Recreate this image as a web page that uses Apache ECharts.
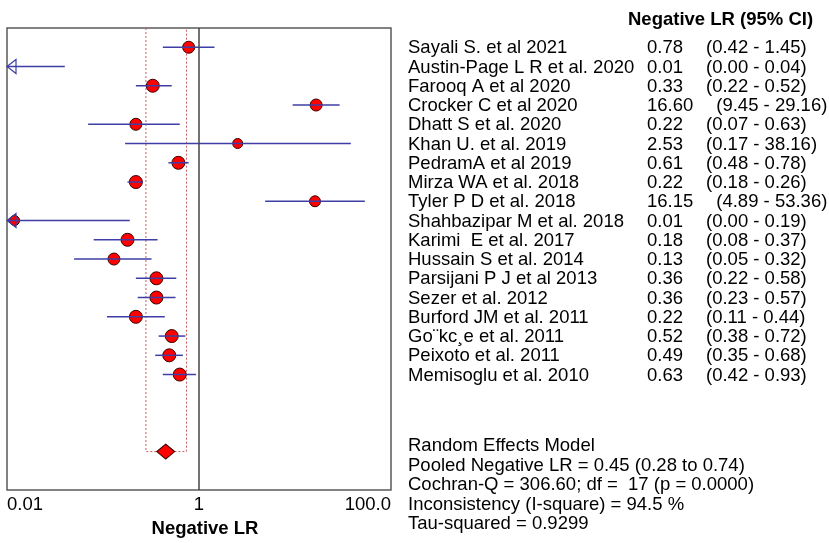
<!DOCTYPE html>
<html>
<head>
    <meta charset="utf-8">
    <title>Negative LR forest plot</title>
    <script src="https://cdn.jsdelivr.net/npm/echarts@6.0.0/dist/echarts.min.js"></script>
    <style>html, body { margin: 0; padding: 0; background: #fff; }</style>
</head>
<body>
<div id="main" style="width: 829px;height:543px;"></div>
<script type="text/javascript">

    // data
    const studies = [
        'Sayali S. et al 2021', 'Austin-Page L R et al. 2020', 'Farooq A et al 2020',
        'Crocker C et al 2020', 'Dhatt S et al. 2020', 'Khan U. et al. 2019',
        'PedramA et al 2019', 'Mirza WA et al. 2018', 'Tyler P D et al. 2018',
        'Shahbazipar M et al. 2018', 'Karimi  E et al. 2017', 'Hussain S et al. 2014',
        'Parsijani P J et al 2013', 'Sezer et al. 2012', 'Burford JM et al. 2011',
        'Go\u00a8kc\u00b8e et al. 2011', 'Peixoto et al. 2011', 'Memisoglu et al. 2010'
    ];
    const lrText = ['0.78', '0.01', '0.33', '16.60', '0.22', '2.53', '0.61', '0.22', '16.15',
        '0.01', '0.18', '0.13', '0.36', '0.36', '0.22', '0.52', '0.49', '0.63'];
    const ciText = ['(0.42 - 1.45)', '(0.00 - 0.04)', '(0.22 - 0.52)', '  (9.45 - 29.16)',
        '(0.07 - 0.63)', '(0.17 - 38.16)', '(0.48 - 0.78)', '(0.18 - 0.26)', '  (4.89 - 53.36)',
        '(0.00 - 0.19)', '(0.08 - 0.37)', '(0.05 - 0.32)', '(0.22 - 0.58)', '(0.23 - 0.57)',
        '(0.11 - 0.44)', '(0.38 - 0.72)', '(0.35 - 0.68)', '(0.42 - 0.93)'];
    // plotted estimates (read from the marks)
    const lr = [0.78, 0.009, 0.33, 16.60, 0.22, 2.53, 0.61, 0.22, 16.15,
        0.012, 0.18, 0.13, 0.36, 0.36, 0.22, 0.52, 0.49, 0.63];
    const ciLow = [0.42, 0.00, 0.22, 9.45, 0.07, 0.17, 0.48, 0.18, 4.89,
        0.00, 0.08, 0.05, 0.22, 0.23, 0.11, 0.38, 0.35, 0.42];
    const ciHigh = [1.45, 0.04, 0.52, 29.16, 0.63, 38.16, 0.78, 0.26, 53.36,
        0.19, 0.37, 0.32, 0.58, 0.57, 0.44, 0.72, 0.68, 0.93];
    const pooled = 0.45;
    const pooledLow = 0.28;
    const pooledHigh = 0.74;
    const summaryLines = [
        'Random Effects Model',
        'Pooled Negative LR = 0.45 (0.28 to 0.74)',
        'Cochran-Q = 306.60; df =  17 (p = 0.0000)',
        'Inconsistency (I-square) = 94.5 %',
        'Tau-squared = 0.9299'
    ];
    const xTickValues = [0.01, 1, 100];
    const xTickLabels = ['0.01', '1', '100.0'];

    // style
    const xMin = 0.01, xMax = 100;
    const poolRow = 21;
    const dotSize = [12, 12, 13, 12, 12, 10, 13, 13, 11, 10, 13, 12, 13, 13, 13, 13, 13, 13];
    const ciColor = '#3e3ea6';
    const font = '18.5px "Liberation Sans", Arial, sans-serif';
    const boldFont = 'bold 18.5px "Liberation Sans", Arial, sans-serif';

    const rows = studies.map(function (s, i) { return [1, i]; });
    const dots = [];
    lr.forEach(function (v, i) {
        if (v >= xMin) dots.push({ value: [v, i], symbolSize: dotSize[i] });
    });

    function tickLabel(v) {
        const p = Math.round(Math.log10(v));
        for (let k = 0; k < xTickValues.length; k++) {
            if (Math.round(Math.log10(xTickValues[k])) === p) return xTickLabels[k];
        }
        return '';
    }

    option = {
        animation: false,
        grid: { left: 7, top: 28, width: 384, height: 465, show: true, borderColor: '#5a5a5a', borderWidth: 1.5 },
        xAxis: {
            type: 'log', logBase: 10, min: xMin, max: xMax,
            axisLine: { show: false },
            axisTick: { show: false },
            splitLine: { show: false },
            axisLabel: {
                formatter: tickLabel, color: '#000', fontSize: 18.5, fontFamily: 'Liberation Sans',
                margin: 5, alignMinLabel: 'left', alignMaxLabel: 'right'
            },
            name: 'Negative LR', nameLocation: 'middle', nameGap: 20,
            nameTextStyle: { color: '#000', fontSize: 18.5, fontWeight: 'bold', fontFamily: 'Liberation Sans', padding: [0, 0, 0, 12] }
        },
        yAxis: { type: 'value', min: -1, max: 23, inverse: true, show: false },
        graphic: [
            { type: 'text', x: 628, y: 20, style: { text: 'Negative LR (95% CI)', font: boldFont, fill: '#000', verticalAlign: 'middle' } }
        ].concat(summaryLines.map(function (t, k) {
            return { type: 'text', x: 408, y: 446 + k * 19.6, style: { text: t, font: font, fill: '#000', verticalAlign: 'middle' } };
        })),
        series: [
            {
                // pooled CI box + line of no effect
                type: 'custom', z: 1,
                data: [[pooled, poolRow]],
                renderItem: function (params, api) {
                    const a = api.coord([pooledLow, -1]);
                    const b = api.coord([pooledLow, poolRow]);
                    const c = api.coord([pooledHigh, poolRow]);
                    const d = api.coord([pooledHigh, -1]);
                    return {
                        type: 'polyline',
                        shape: { points: [a, b, c, d] },
                        style: { stroke: '#cc5a5a', lineWidth: 1, lineDash: [2, 2], fill: null }
                    };
                },
                markLine: {
                    silent: true, symbol: 'none', label: { show: false },
                    lineStyle: { color: '#444', width: 1.5, type: 'solid' },
                    data: [{ xAxis: 1 }]
                }
            },
            {
                type: 'scatter', z: 2,
                data: dots,
                itemStyle: { color: '#ff0000', borderColor: '#3a0000', borderWidth: 1, opacity: 1 }
            },
            {
                type: 'scatter', z: 2,
                symbol: 'diamond', symbolSize: [18, 15],
                data: [[pooled, poolRow]],
                itemStyle: { color: '#ff0000', borderColor: '#3a0000', borderWidth: 1, opacity: 1 }
            },
            {
                // confidence intervals
                type: 'custom', z: 3,
                data: rows,
                renderItem: function (params, api) {
                    const i = params.dataIndex;
                    const lo = ciLow[i], hi = ciHigh[i];
                    const p0 = api.coord([Math.max(lo, xMin), i]);
                    const p1 = api.coord([Math.min(hi, xMax), i]);
                    const children = [{
                        type: 'line',
                        shape: { x1: p0[0], y1: p0[1], x2: p1[0], y2: p1[1] },
                        style: { stroke: ciColor, lineWidth: 1.5 }
                    }];
                    if (lo < xMin) {
                        children.push({
                            type: 'polygon',
                            shape: { points: [[p0[0], p0[1]], [p0[0] + 9, p0[1] - 7], [p0[0] + 9, p0[1] + 7]] },
                            style: { stroke: ciColor, lineWidth: 1.2, fill: null }
                        });
                    }
                    return { type: 'group', children: children };
                }
            },
            {
                // study table text
                type: 'custom', z: 3,
                data: rows,
                renderItem: function (params, api) {
                    const i = params.dataIndex;
                    const y = api.coord([1, i])[1] + 1;
                    const cols = [[408, studies[i]], [647, lrText[i]], [706, ciText[i]]];
                    return {
                        type: 'group',
                        children: cols.map(function (c) {
                            return { type: 'text', x: c[0], y: y, style: { text: c[1], font: font, fill: '#000', verticalAlign: 'middle' } };
                        })
                    };
                }
            }
        ]
    };

    let myChart = echarts.init(document.getElementById('main'));
    myChart.setOption(option);
</script>
</body>
</html>
